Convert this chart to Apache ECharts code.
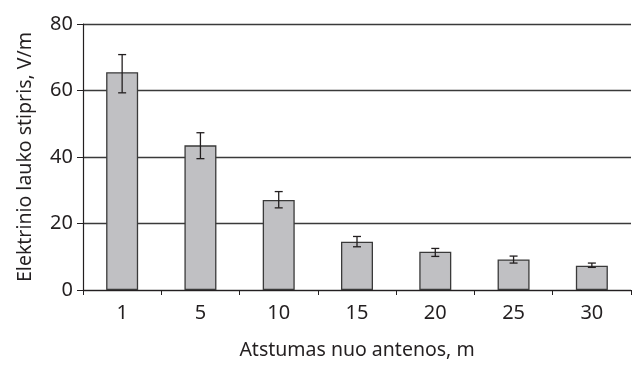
<!DOCTYPE html>
<html>
<head>
<meta charset="utf-8">
<script src="https://cdn.jsdelivr.net/npm/echarts@6/dist/echarts.min.js"></script>
<style>html,body{margin:0;padding:0;background:#fff;}#c{width:633px;height:365px;}</style>
</head>
<body>
<div id="c"></div>
<script>
const categories = ['1', '5', '10', '15', '20', '25', '30'];
const values = [65.5, 43.5, 27.1, 14.5, 11.5, 9.2, 7.3];
const errLow = [59.3, 39.5, 24.7, 13.0, 10.1, 8.1, 6.8];
const errHigh = [70.8, 47.3, 29.6, 16.1, 12.5, 10.2, 8.1];
const yTicks = [0, 20, 40, 60, 80];

const chart = echarts.init(document.getElementById('c'));
const font = '"Noto Sans", sans-serif';
const errData = categories.map((c, i) => [i, errLow[i], errHigh[i]]);

chart.setOption({
  animation: false,
  backgroundColor: '#fff',
  grid: { left: 83, right: 2, top: 24, bottom: 71 },
  xAxis: {
    type: 'category',
    data: categories,
    name: 'Atstumas nuo antenos, m',
    nameLocation: 'middle',
    nameGap: 50,
    nameTextStyle: { fontFamily: font, fontSize: 19.5, color: '#231f20' },
    axisLine: { lineStyle: { color: '#231f20', width: 1.2 } },
    axisTick: { show: true, length: 5, lineStyle: { color: '#231f20' } },
    axisLabel: { fontFamily: font, fontSize: 20, color: '#231f20', margin: 13 }
  },
  yAxis: {
    type: 'value',
    min: yTicks[0],
    max: yTicks[yTicks.length - 1],
    interval: 20,
    name: 'Elektrinio lauko stipris, V/m',
    nameLocation: 'middle',
    nameGap: 48,
    nameTextStyle: { fontFamily: font, fontSize: 19.5, color: '#231f20' },
    axisLine: { show: true, lineStyle: { color: '#231f20', width: 1.2 } },
    axisTick: { show: true, length: 6, lineStyle: { color: '#231f20' } },
    axisLabel: { fontFamily: font, fontSize: 20, color: '#231f20', margin: 10 },
    splitLine: { show: true, lineStyle: { color: '#3a3a3a', width: 1.3 } }
  },
  series: [
    {
      type: 'bar',
      data: values,
      barWidth: 32,
      itemStyle: { color: '#c0c0c3', borderColor: '#3a3a3a', borderWidth: 1.3 },
      z: 2
    },
    {
      type: 'custom',
      data: errData,
      z: 3,
      renderItem: function (params, api) {
        const x = api.value(0);
        const lo = api.coord([x, api.value(1)]);
        const hi = api.coord([x, api.value(2)]);
        const w = 4;
        const style = { stroke: '#231f20', lineWidth: 1.3 };
        return {
          type: 'group',
          children: [
            { type: 'line', shape: { x1: hi[0], y1: hi[1], x2: lo[0], y2: lo[1] }, style: style },
            { type: 'line', shape: { x1: hi[0] - w, y1: hi[1], x2: hi[0] + w, y2: hi[1] }, style: style },
            { type: 'line', shape: { x1: lo[0] - w, y1: lo[1], x2: lo[0] + w, y2: lo[1] }, style: style }
          ]
        };
      }
    }
  ]
});
</script>
</body>
</html>
